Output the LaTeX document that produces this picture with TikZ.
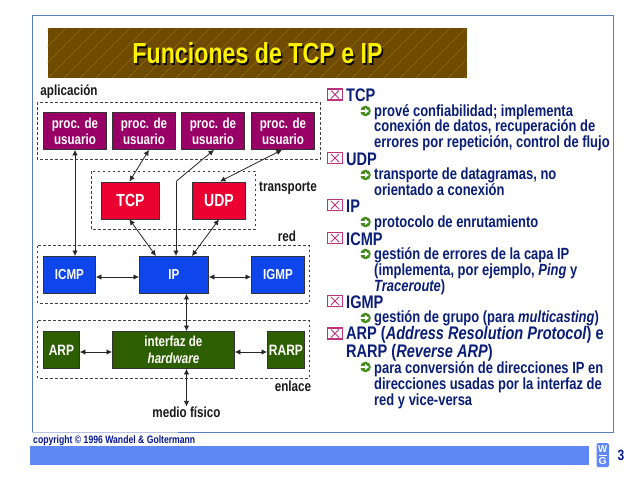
\documentclass[tikz,border=0pt]{standalone}
\usepackage{fontspec}
\setmainfont{Liberation Sans}[FakeStretch=0.8]
\usetikzlibrary{arrows.meta,calc}
\definecolor{bord}{RGB}{90,125,185}
\definecolor{purp}{RGB}{153,0,102}
\definecolor{redb}{RGB}{235,0,50}
\definecolor{blueb}{RGB}{15,70,235}
\definecolor{greenb}{RGB}{45,95,0}
\definecolor{navy}{RGB}{10,30,120}
\definecolor{bar}{RGB}{95,135,245}
\definecolor{brownb}{RGB}{110,75,0}
\definecolor{magb}{RGB}{190,50,130}
\definecolor{arrowg}{RGB}{70,140,30}
\tikzset{
 x=1pt,y=-1pt,
 box/.style={draw=black!80,line width=0.9pt,text=white,font=\bfseries,align=center,inner sep=0pt,anchor=north west},
 proc/.style={box,fill=purp,minimum width=63pt,minimum height=37pt,font=\bfseries\fontsize{14.5}{16}\selectfont},
 big/.style={box,font=\bfseries\fontsize{17.5}{18}\selectfont},
 net/.style={box,fill=blueb,minimum height=37pt,font=\bfseries\fontsize{14.5}{16}\selectfont},
 link/.style={box,fill=greenb,minimum height=37pt,font=\bfseries\fontsize{15}{16}\selectfont},
 layer/.style={draw=black!75,line width=0.7pt,dash pattern=on 2.5pt off 2.5pt},
 lab/.style={font=\bfseries\fontsize{14.6}{14}\selectfont,text=black!90,inner sep=0pt},
 conn/.style={line width=0.8pt,black!85,{Latex[length=5.5pt,width=5.5pt]}-{Latex[length=5.5pt,width=5.5pt]}},
 oneway/.style={line width=0.8pt,black!85,-{Latex[length=5.5pt,width=5.5pt]}},
 head/.style={font=\bfseries\fontsize{18.2}{16.5}\selectfont,text=navy,anchor=west,inner sep=0pt},
 sub/.style={font=\bfseries\fontsize{16.2}{15.8}\selectfont,text=navy,anchor=north west,inner sep=0pt,align=left},
 chk/.style={draw=magb,fill=white,line width=1.3pt,minimum width=15pt,minimum height=11pt,inner sep=0pt},
}
\newcommand{\xbox}[2]{\node[chk] (#1) at #2 {};
 \draw[magb,line width=0.8pt] ($(#1.center)+(-4,-4)$) -- ($(#1.center)+(4,4)$) ($(#1.center)+(-4,4)$) -- ($(#1.center)+(4,-4)$);}
% round green bullet with a white arrow entering from its left; #1 = y, #2 = x of the centre
\newcommand{\bul}[2]{\fill[arrowg] (#2,#1) circle[radius=5.3pt];
 \fill[white] (#2-6,#1-1.2) rectangle (#2,#1+1.2);
 \fill[white] (#2-0.5,#1-3) -- (#2+3.5,#1) -- (#2-0.5,#1+3) -- cycle;
}
\begin{document}
\begin{tikzpicture}
\useasboundingbox (0,0) rectangle (640,480);
\fill[white] (0,0) rectangle (640,480);
% frame
\draw[bord,line width=1pt] (32,15.5) rectangle (613.5,432.5);
\draw[bord!45,line width=1.5pt] (32,432.5) -- (178,432.5);
% title
\fill[brownb] (47.5,28) rectangle (467,78);
\begin{scope}
\clip (47.5,28) rectangle (467,78);
\foreach \i in {0,16,...,480} \draw[brownb!80!yellow,line width=0.4pt] (\i,78) -- (\i+50,28);
\end{scope}
\node[font=\bfseries\fontsize{29}{30}\selectfont,text=black,inner sep=0pt] at (259,55) {Funciones de TCP e IP};
\node[font=\bfseries\fontsize{29}{30}\selectfont,text=yellow,inner sep=0pt] (title) at (257.5,53.5) {Funciones de TCP e IP};
% layers
\draw[layer] (37.5,102) rectangle (320,159.5);
\draw[layer] (91,171) rectangle (255,229);
\draw[layer] (37.5,245.5) rectangle (309,303);
\draw[layer] (37.5,320.5) rectangle (309,378);
% labels
\node[lab] (lapl) at (69,92) {aplicación};
\node[lab] (ltra) at (288,188) {transporte};
\node[lab] (lred) at (287,236) {red};
\node[lab] (lenl) at (293,386) {enlace};
\node[lab] (lmed) at (186.5,412) {medio físico};
% boxes
\node[proc] (p1) at (43,112) {proc. de\\usuario};
\node[proc] (p2) at (112,112) {proc. de\\usuario};
\node[proc] (p3) at (181,112) {proc. de\\usuario};
\node[proc] (p4) at (251,112) {proc. de\\usuario};
\node[big,fill=redb,minimum width=58pt,minimum height=37pt] (tcp) at (101,181.5) {TCP};
\node[big,fill=redb,minimum width=53pt,minimum height=37pt] (udp) at (192,181.5) {UDP};
\node[net,minimum width=52pt] (icmp) at (43,256) {ICMP};
\node[net,minimum width=69pt] (ip) at (139,256) {IP};
\node[net,minimum width=53pt] (igmp) at (251,256) {IGMP};
\node[link,minimum width=36pt] (arp) at (43,331) {ARP};
\node[link,minimum width=122pt,font=\bfseries\fontsize{14.5}{16.5}\selectfont] (hw) at (112,331) {interfaz de\\\itshape hardware};
\node[link,minimum width=37pt] (rarp) at (267,331) {RARP};
% connectors
\coordinate (bend) at (176,181.5);
\draw[conn] (p1.south -| 75,0) -- (icmp.north -| 75,0);
\draw[conn] ($(p2.south)+(5,0)$) -- ($(tcp.north)+(-1,0)$);
\draw[oneway] (bend) -- ($(p3.south)+(1,0)$);
\draw[oneway] (bend) -- (ip.north -| bend);
\draw[conn] ($(p4.south)+(-1,0)$) -- ($(udp.north)+(1,0)$);
\draw[conn] ($(tcp.south)+(-1,0)$) -- ($(ip.north)+(-18,0)$);
\draw[conn] ($(udp.south)+(0,0)$) -- ($(ip.north)+(18,0)$);
\draw[conn] (icmp.east |- 0,277) -- (ip.west |- 0,277);
\draw[conn] (ip.east |- 0,277) -- (igmp.west |- 0,277);
\draw[conn] (ip.south -| 186.5,0) -- (hw.north -| 186.5,0);
\draw[conn] (arp.east |- 0,352) -- (hw.west |- 0,352);
\draw[conn] (hw.east |- 0,352) -- (rarp.west |- 0,352);
\draw[conn] (hw.south -| 186.5,0) -- (lmed.north -| 186.5,0);
% right text
\xbox{c1}{(335,94.5)}\node[head] (h1) at (346,95) {TCP};
\bul{111}{365.5}
\node[sub] (s1) at (374,104) {prové confiabilidad; implementa\\conexión de datos, recuperación de\\errores por repetición, control de flujo};
\xbox{c2}{(335,158)}\node[head] (h2) at (346,159) {UDP};
\bul{175}{365.5}
\node[sub] (s2) at (374,168) {transporte de datagramas, no\\orientado a conexión};
\xbox{c3}{(335,205)}\node[head] (h3) at (346,206) {IP};
\bul{222}{365.5}
\node[sub] (s3) at (374,215.5) {protocolo de enrutamiento};
\xbox{c4}{(335,238)}\node[head] (h4) at (346,239) {ICMP};
\bul{254}{365.5}
\node[sub] (s4) at (374,247.5) {gestión de errores de la capa IP\\(implementa, por ejemplo, \textit{Ping} y\\\textit{Traceroute})};
\xbox{c5}{(335,301)}\node[head] (h5) at (346,302) {IGMP};
\bul{318}{365.5}
\node[sub] (s5) at (374,310) {gestión de grupo (para \textit{multicasting})};
\xbox{c6}{(335,333.5)}
\node[head,anchor=north west,align=left] (h6) at (346,326) {ARP (\textit{Address Resolution Protocol}) e\\RARP (\textit{Reverse ARP})};
\bul{367}{365.5}
\node[sub] (s6) at (374,361.5) {para conversión de direcciones IP en\\direcciones usadas por la interfaz de\\red y vice-versa};
% footer
\node[font=\bfseries\fontsize{10.8}{12}\selectfont,text=navy!80!blue,anchor=west,inner sep=0pt] (copy) at (33,440.5) {copyright © 1996 Wandel \& Goltermann};
\fill[bar] (29.5,445.5) rectangle (589,465);
\fill[bar,rounded corners=1.5pt] (596.5,443) rectangle (609,467);
\node[font=\bfseries\fontsize{10}{9}\selectfont,text=white,inner sep=0pt,xscale=1.2] (w) at (602.7,449) {W};
\draw[white,line width=1pt] (598.5,455) -- (607,455);
\node[font=\bfseries\fontsize{10}{9}\selectfont,text=white,inner sep=0pt,xscale=1.3] (g) at (602.7,461) {G};
\node[font=\bfseries\fontsize{15}{14}\selectfont,text=navy!80!blue,inner sep=0pt] (pg) at (621,455) {3};
\end{tikzpicture}
\end{document}
